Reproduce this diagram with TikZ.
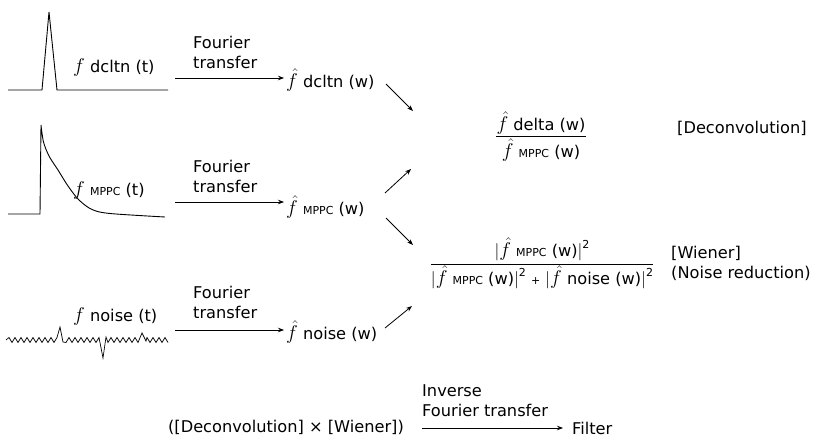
\documentclass[tikz,border=0pt]{standalone}
\usepackage{fontspec}
\setmainfont{DejaVu Sans}
\usetikzlibrary{arrows.meta}
\newcommand\sm[1]{{\fontsize{11}{12}\selectfont #1}}
\newcommand\fh{\scalebox{1.15}{$\hat{f}$}}
\newcommand\ff{\scalebox{1.15}{$f$}}
\newcommand\sq{\raisebox{0.85ex}{\sm{2}}}
\newcommand\vb{$\Bigl|$}
\newcommand\vbr{$\Bigr|$}
\tikzset{
  every node/.style={font=\fontsize{16.2}{20}\selectfont, inner sep=0pt},
  arr/.style={-{Stealth[length=6pt,width=4.5pt]}, line width=0.8pt},
  sig/.style={line width=0.9pt, line join=miter},
  lbl/.style={anchor=west, align=left},
}
\begin{document}
\begin{tikzpicture}[x=1pt,y=-1pt]
\useasboundingbox (0,0) rectangle (822,441);

% ---------- signals ----------
\draw[sig] (8,90) -- (42,90) -- (49,12) -- (57,90) -- (168,90);
\draw[sig] (8,214) -- (40,214) -- (41,125) plot[smooth] coordinates {(41,125) (43.5,142) (49,156) (58,170) (68,186) (79,200) (92,209.5) (110,213.5) (165,217)};
\draw[sig, line width=0.7pt] (6,340)
  \foreach \k in {3,...,19} { -- ({\k*3},{340+ifthenelse(isodd(\k),-2.5,2.5)}) }
  -- (60,327) -- (63,342)
  \foreach \k in {22,...,33} { -- ({\k*3},{340+ifthenelse(isodd(\k),-2.5,2.5)}) }
  -- (103,358) -- (106,337)
  \foreach \k in {36,...,46} { -- ({\k*3},{340+ifthenelse(isodd(\k),-2.5,2.5)}) }
  -- (142,333) -- (146,341)
  \foreach \k in {49,...,56} { -- ({\k*3},{340+ifthenelse(isodd(\k),-2.5,2.5)}) };

% ---------- time-domain labels ----------
\node[lbl] (ft1) at (73,68) {\ff{} dcltn (t)};
\node[lbl] (ft2) at (73,191) {\ff{} \sm{MPPC} (t)};
\node[lbl] (ft3) at (73,317) {\ff{} noise (t)};

% ---------- Fourier arrows ----------
\coordinate (s1) at (175,78);  \coordinate (s2) at (175,202); \coordinate (s3) at (175,330);
\node[lbl] (w1) at (286,80) {\fh{} dcltn (w)};
\node[lbl] (w2) at (286,207) {\fh{} \sm{MPPC} (w)};
\node[lbl] (w3) at (286,332) {\fh{} noise (w)};
\draw[arr] (s1) -- ([xshift=-2pt]s1 -| w1.west);
\draw[arr] (s2) -- ([xshift=-2pt]s2 -| w2.west);
\draw[arr] (s3) -- ([xshift=-2pt]s3 -| w3.west);
\node[lbl] (t1) at (193,52) {Fourier\\transfer};
\node[lbl] (t2) at (193,176) {Fourier\\transfer};
\node[lbl] (t3) at (193,302) {Fourier\\transfer};

% ---------- diagonal arrows ----------
\coordinate (d1a) at (386,84);  \coordinate (d1b) at (413,111);
\coordinate (d2a) at (385,193); \coordinate (d2b) at (411,169);
\coordinate (d3a) at (386,218); \coordinate (d3b) at (413,245);
\coordinate (d4a) at (385,328); \coordinate (d4b) at (412,306);
\draw[arr] (d1a) -- (d1b);
\draw[arr] (d2a) -- (d2b);
\draw[arr] (d3a) -- (d3b);
\draw[arr] (d4a) -- (d4b);

% ---------- Deconvolution ----------
\node (dnum) at (541,123) {\fh{} delta (w)};
\node (dden) at (541,150) {\fh{} \sm{MPPC} (w)};
\draw[line width=0.8pt] ([yshift=-2pt]dnum.south west) -- ([yshift=-2pt]dnum.south east);
\node[lbl] (dlab) at (677,128) {[Deconvolution]};

% ---------- Wiener ----------
\node (wnum) at (542,249) {\vb\fh{} \sm{MPPC} (w)\vbr\sq};
\node (wden) at (542,277) {\vb\fh{} \sm{MPPC} (w)\vbr\sq{} \sm{+} \vb\fh{} noise (w)\vbr\sq};
\draw[line width=0.8pt] ([yshift=1pt]wden.north west) -- ([yshift=1pt]wden.north east);
\node[lbl] (wlab) at (671,263) {[Wiener]\\(Noise reduction)};

% ---------- bottom ----------
\node[anchor=east] (prod) at (404,427) {([Deconvolution] × [Wiener])};
\node[lbl] (filt) at (572,428) {Filter};
\coordinate (b1) at (422,428);
\draw[arr] (b1) -- ([xshift=-9pt]b1 -| filt.west);
\node[lbl] (inv) at (422,401) {Inverse\\Fourier transfer};
\end{tikzpicture}
\end{document}
